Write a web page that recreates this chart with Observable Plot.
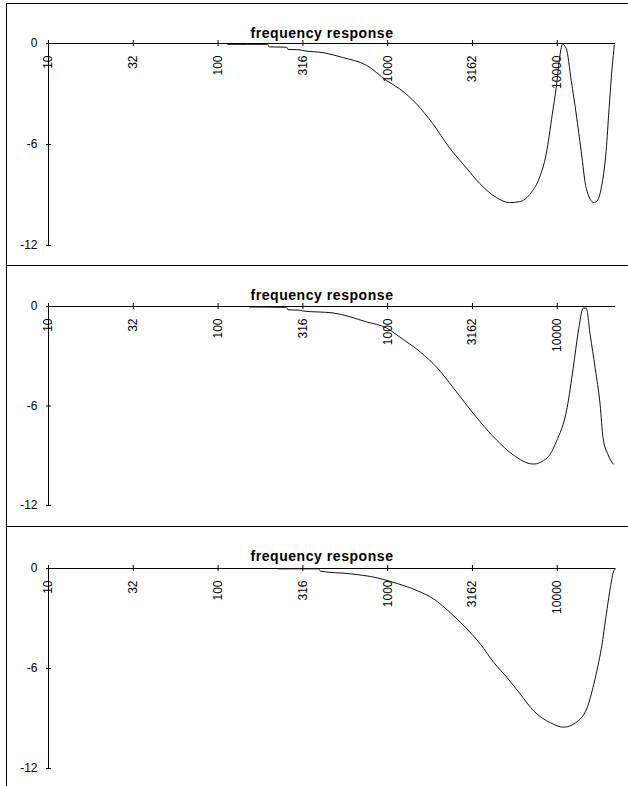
<!DOCTYPE html>
<html><head><meta charset="utf-8">
<script src="https://cdn.jsdelivr.net/npm/d3@7"></script>
<script src="https://cdn.jsdelivr.net/npm/@observablehq/plot@0.6"></script>
<style>
body{margin:0;background:#fff;}
#wrap{position:relative;width:628px;height:786px;overflow:hidden;background:#fff;}
.panel{position:absolute;left:6px;width:622px;border-top:1px solid #000;border-left:1px solid #000;}
.panel svg{display:block;}
</style></head><body><div id="wrap"></div>
<script>
const chartTitle = "frequency response";
const xTickValues = [10, 31.62, 100, 316.2, 1000, 3162, 10000];
const xTickLabels = ["10", "32", "100", "316", "1000", "3162", "10000"];
const yTickValues = [0, -6, -12];
const freqMin = 10, freqMax = 22050;

// panel 1
const freq1 = [114, 196, 200, 254, 258, 300, 316, 420, 543, 752, 986, 1177, 1482, 1840, 2316, 2915, 3477, 4377, 5220, 5977, 7031, 7834, 8610, 9349, 9863, 10280, 10730, 11300, 12090, 12940, 13840, 14820, 16410, 17190, 18390, 19410, 20230, 21080, 21700];
const db1 = [-0.05, -0.05, -0.2, -0.22, -0.35, -0.37, -0.42, -0.55, -0.83, -1.3, -2.2, -2.7, -3.6, -4.75, -6.2, -7.4, -8.3, -9.15, -9.45, -9.4, -8.85, -8.0, -6.55, -4.2, -2.6, -1.0, -0.05, -0.3, -2.2, -4.2, -6.4, -8.6, -9.45, -9.35, -8.3, -6.4, -3.8, -1.4, -0.1];

// panel 2
const freq2 = [153, 254, 258, 300, 316, 478, 752, 986, 1177, 1556, 1960, 2437, 2915, 3515, 4377, 5498, 7205, 8715, 9863, 11430, 12420, 13290, 14220, 14820, 15640, 16730, 17900, 18620, 19950, 21350];
const db2 = [-0.03, -0.05, -0.2, -0.22, -0.27, -0.39, -0.93, -1.3, -1.84, -2.74, -3.7, -4.9, -5.93, -6.96, -8.04, -8.95, -9.5, -9.13, -8.16, -6.11, -3.7, -1.54, -0.1, -0.1, -1.72, -3.7, -5.93, -7.92, -8.95, -9.5];

// panel 3
const freq3 = [226, 390, 402, 604, 867, 1039, 1493, 1870, 2244, 2810, 3524, 4223, 5063, 6066, 7270, 9120, 10920, 12800, 15000, 16410, 17570, 18400, 19000, 19690, 20590, 21530, 22050];
const db3 = [-0.02, -0.02, -0.16, -0.32, -0.56, -0.78, -1.33, -1.83, -2.49, -3.43, -4.54, -5.64, -6.55, -7.55, -8.55, -9.26, -9.52, -9.26, -8.35, -6.95, -5.6, -4.5, -3.5, -2.4, -1.1, -0.15, -0.02];

const panels = [
  {top: 3, h: 261, mt: 39, ph: 202, freq: freq1, db: db1},
  {top: 265, h: 260, mt: 40, ph: 199, freq: freq2, db: db2},
  {top: 526, h: 259, mt: 41, ph: 200, freq: freq3, db: db3}
];

const wrap = document.getElementById("wrap");
const font = "'Liberation Sans', Arial, sans-serif";

for (const p of panels) {
  const data = p.freq.map((f, i) => ({f, db: p.db[i]}));
  const div = document.createElement("div");
  div.className = "panel";
  div.style.top = p.top + "px";
  div.style.height = p.h + "px";
  wrap.appendChild(div);
  const chart = Plot.plot({
    width: 621,
    height: p.h,
    marginLeft: 41,
    marginRight: 13,
    marginTop: p.mt,
    marginBottom: p.h - p.mt - p.ph,
    x: {type: "log", domain: [freqMin, freqMax], axis: null},
    y: {domain: [-12, 0], axis: null},
    style: {fontFamily: font, background: "transparent", overflow: "visible", color: "#000"},
    marks: [
      Plot.ruleY([0], {x1: freqMin, x2: freqMax, stroke: "#000", strokeWidth: 1}),
      Plot.ruleX([freqMin], {y1: -12, y2: 0, stroke: "#000", strokeWidth: 1}),
      Plot.ruleX(xTickValues, {x: d => d, y1: 0, y2: 0, insetTop: -3, insetBottom: -3, stroke: "#000"}),
      Plot.ruleY(yTickValues, {y: d => d, x1: freqMin, x2: freqMin, insetLeft: -2, insetRight: -3, stroke: "#000"}),
      Plot.text(xTickValues, {x: d => d, y: 0, text: (d, i) => xTickLabels[i], rotate: -90, textAnchor: "end", dy: 12, fontSize: 12, fill: "#000"}),
      Plot.text(yTickValues, {x: freqMin, y: d => d, text: d => String(d), textAnchor: "end", dx: -11, fontSize: 12, fill: "#000"}),
      Plot.line(data, {x: "f", y: "db", stroke: "#111", strokeWidth: 1, curve: "monotone-x"}),
      Plot.text([chartTitle], {frameAnchor: "top", text: d => d, dx: -10, dy: 24 - p.mt, fontSize: 14, fontWeight: "bold", fill: "#000"})
    ]
  });
  chart.querySelectorAll("text").forEach(t => {
    if (t.textContent === chartTitle) t.style.letterSpacing = "0.55px";
  });
  div.appendChild(chart);
}
</script>
</body></html>
